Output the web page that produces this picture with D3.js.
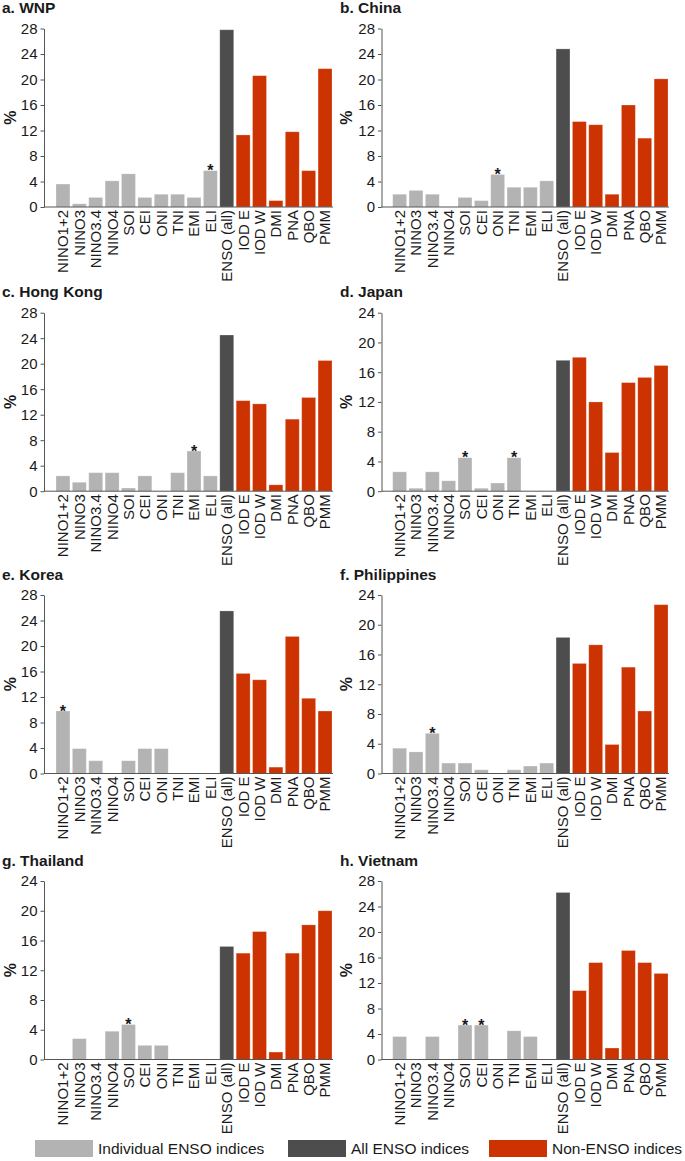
<!DOCTYPE html>
<html>
<head>
<meta charset="utf-8">
<script src="https://cdn.jsdelivr.net/npm/d3@7"></script>
<style>
  body { margin: 0; background: #fff; }
  text { font-family: "Liberation Sans", Arial, sans-serif; fill: #1a1a1a; }
</style>
</head>
<body>
<svg id="chart" width="685" height="1161"></svg>
<script>
//indices on the x axis, same for every panel
var categories = ["NINO1+2","NINO3","NINO3.4","NINO4","SOI","CEI","ONI","TNI","EMI","ELI",
  "ENSO (all)","IOD E","IOD W","DMI","PNA","QBO","PMM"];
// "ENSO (all)" sits at index 10
var groups = ["ind","ind","ind","ind","ind","ind","ind","ind","ind","ind",
  "all","non","non","non","non","non","non"];

//% values read per region
var wnp         = [3.6,0.5,1.5,4.1,5.2,1.5,2.0,2.0,1.5,5.7, 27.8, 11.3,20.6,1.0,11.8,5.7,21.7];
var china       = [2.0,2.6,2.0,0,1.5,1.0,5.1,3.1,3.1,4.1, 24.8, 13.4,12.9,2.0,16.0,10.8,20.1];
var hongkong    = [2.4,1.4,2.9,2.9,0.5,2.4,0,2.9,6.3,2.4, 24.5, 14.2,13.7,1.0,11.3,14.7,20.5];
var japan       = [2.6,0.4,2.6,1.4,4.5,0.4,1.1,4.5,0,0, 17.6, 18.0,12.0,5.2,14.6,15.3,16.9];
var korea       = [9.8,3.9,2.0,0,2.0,3.9,3.9,0,0,0, 25.5, 15.7,14.7,1.0,21.5,11.8,9.8];
var philippines = [3.4,2.9,5.4,1.4,1.4,0.5,0,0.5,1.0,1.4, 18.3, 14.8,17.3,3.9,14.3,8.4,22.7];
var thailand    = [0,2.8,0,3.8,4.7,1.9,1.9,0,0,0, 15.2, 14.3,17.2,1.0,14.3,18.1,20.0];
var vietnam     = [3.6,0,3.6,0,5.4,5.4,0,4.5,3.6,0, 26.2, 10.8,15.2,1.8,17.1,15.2,13.5];

var titles = ["a. WNP","b. China","c. Hong Kong","d. Japan","e. Korea","f. Philippines","g. Thailand","h. Vietnam"];
var yMax = [28,28,28,24,28,24,24,28];
var starred = [["ELI"],["ONI"],["EMI"],["SOI","TNI"],["NINO1+2"],["NINO3.4"],["SOI"],["SOI","CEI"]];

var legendLabels = ["Individual ENSO indices","All ENSO indices","Non-ENSO indices"];
var legendKeys = ["ind","all","non"];

var series = [wnp, china, hongkong, japan, korea, philippines, thailand, vietnam];

var color = d3.scaleOrdinal().domain(["ind","all","non"]).range(["#b3b3b3","#4d4d4d","#cc3300"]);

var svg = d3.select("#chart");

// layout bits
var colAxisX = [44, 381.5];
var colBars = [[56, 332], [392.7, 668]];
var rowTop = [28.5, 312.7, 595, 881];
var plotH = 178.5;
var colPctX = [10, 346];
var colTitleX = [2, 340];

series.forEach(function(vals, i) {
  var col = i % 2, row = Math.floor(i / 2);
  var top = rowTop[row], zero = top + plotH;
  var g = svg.append("g");

  var x = d3.scaleBand().domain(categories).range(colBars[col]).paddingInner(0.15).paddingOuter(0);
  var y = d3.scaleLinear().domain([0, yMax[i]]).range([zero, top]);

  // title
  g.append("text").attr("x", colTitleX[col]).attr("y", top - 15.5)
    .style("font-size", "15.5px").style("font-weight", "bold").text(titles[i]);

  // % label
  g.append("text")
    .attr("transform", "translate(" + colPctX[col] + "," + (top + plotH / 2) + ") rotate(-90)")
    .attr("dy", "0.35em").style("text-anchor", "middle")
    .style("font-size", "16px").style("font-weight", "bold").text("%");

  // bars
  g.selectAll("rect.bar").data(vals.map(function(v, k) { return {c: categories[k], v: v, grp: groups[k]}; }))
    .enter().append("rect").attr("class", "bar")
    .attr("x", function(d) { return x(d.c); })
    .attr("width", x.bandwidth())
    .attr("y", function(d) { return y(d.v); })
    .attr("height", function(d) { return zero - y(d.v); })
    .attr("fill", function(d) { return color(d.grp); })
    .attr("stroke", "#fff").attr("stroke-opacity", 0.3).attr("stroke-width", 0.8);

  // significance stars
  g.selectAll("text.star").data(starred[i]).enter().append("text").attr("class", "star")
    .attr("x", function(c) { return x(c) + x.bandwidth() / 2; })
    .attr("y", function(c) { return y(vals[categories.indexOf(c)]) + 5.5; })
    .style("text-anchor", "middle").style("font-size", "16px").style("font-weight", "bold")
    .text("*");

  // y axis
  var ya = g.append("g").attr("transform", "translate(" + colAxisX[col] + ",0)")
    .call(d3.axisLeft(y).tickValues(d3.range(0, yMax[i] + 1, 4)).tickSize(3.5).tickSizeOuter(0).tickPadding(3));
  ya.selectAll("text").style("font-family", "'Liberation Sans', Arial, sans-serif")
    .style("font-size", "15px").style("fill", "#1a1a1a");
  ya.selectAll("line, path").attr("stroke", "#555");

  // x axis
  g.append("line").attr("x1", colAxisX[col]).attr("x2", colBars[col][1] + 1)
    .attr("y1", zero).attr("y2", zero).attr("stroke", "#555");
  var xa = g.append("g").attr("transform", "translate(0," + zero + ")")
    .call(d3.axisBottom(x).tickSize(0).tickPadding(0));
  xa.select(".domain").remove();
  xa.selectAll("text")
    .attr("transform", "rotate(-90)")
    .attr("x", -3).attr("y", 0).attr("dy", "0.36em")
    .style("text-anchor", "end").style("font-family", "'Liberation Sans', Arial, sans-serif")
    .style("font-size", "15px").style("fill", "#1a1a1a");
});

// legend
var legX = [35, 288, 489];
var leg = svg.append("g").selectAll("g").data(legendKeys).enter().append("g")
  .attr("transform", function(d, k) { return "translate(" + legX[k] + ",1140)"; });
leg.append("rect").attr("width", 58).attr("height", 17).attr("fill", function(d) { return color(d); });
leg.append("text").attr("x", 63).attr("y", 8.5).attr("dy", "0.35em")
  .style("font-size", "15.5px").text(function(d, k) { return legendLabels[k]; });
</script>
</body>
</html>
